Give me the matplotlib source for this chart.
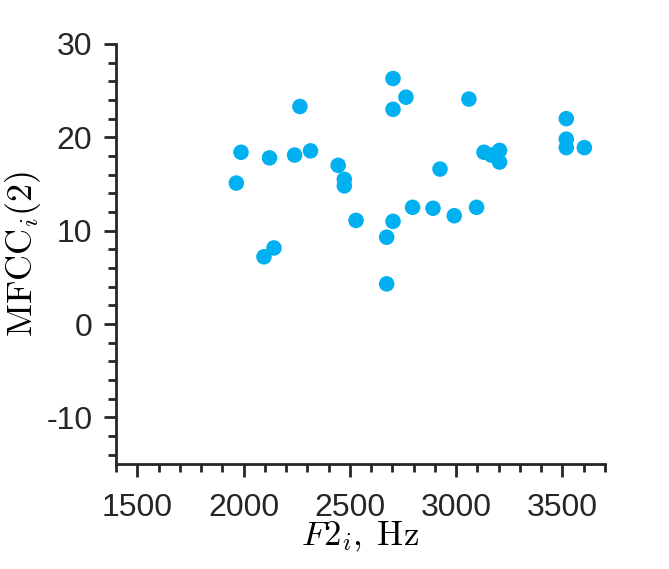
import matplotlib
matplotlib.use("Agg")
import matplotlib.pyplot as plt
from matplotlib.ticker import MultipleLocator

plt.rcParams['font.family'] = ['Liberation Sans', 'DejaVu Sans']
plt.rcParams['mathtext.fontset'] = 'cm'
plt.rcParams['axes.unicode_minus'] = False

f2_hz = [1966, 1988, 2096, 2143, 2122, 2265, 2240, 2315, 2445, 2474, 2474,
         2529, 2673, 2673, 2703, 2703, 2703, 2764, 2795, 2891, 2924, 2991,
         3060, 3096, 3131, 3165, 3204, 3204, 3518, 3518, 3518, 3603]
mfcc2 = [15.1, 18.4, 7.2, 8.15, 17.8, 23.3, 18.1, 18.55, 17.0, 15.5, 14.8,
         11.1, 9.3, 4.3, 11.0, 26.3, 23.0, 24.3, 12.5, 12.4, 16.6, 11.6,
         24.1, 12.5, 18.4, 18.1, 18.6, 17.35, 22.0, 19.8, 18.9, 18.9]

xticks = [1500, 2000, 2500, 3000, 3500]
yticks = [-10, 0, 10, 20, 30]

fig = plt.figure(figsize=(6.69, 5.69), dpi=100)
ax = fig.add_axes([0.1734, 0.1845, 0.9043 - 0.1734, 0.9227 - 0.1845])

ax.scatter(f2_hz, mfcc2, s=125, color='#00B0F0', edgecolors='none', zorder=3)

ax.set_xlim(1400, 3700)
ax.set_ylim(-15, 30)
ax.set_xticks(xticks)
ax.set_yticks(yticks)
ax.xaxis.set_minor_locator(MultipleLocator(100))
ax.yaxis.set_minor_locator(MultipleLocator(2))

for s in ['top', 'right']:
    ax.spines[s].set_visible(False)
for s in ['left', 'bottom']:
    ax.spines[s].set_linewidth(2.0)
    ax.spines[s].set_color('#262626')

ax.tick_params(which='major', direction='out', length=9, width=2.0,
               color='#262626', labelsize=23, labelcolor='#262626')
ax.tick_params(which='minor', direction='out', length=5.5, width=2.0,
               color='#262626')
ax.tick_params(axis='x', which='major', pad=12)
ax.tick_params(axis='y', which='major', pad=8)

ax.set_xlabel(r'$F2_i,\;\mathrm{Hz}$', fontsize=25, labelpad=-2)
ax.set_ylabel(r'$\mathrm{MFCC}_i(2)$', fontsize=26, labelpad=2)

fig.savefig('out.png', dpi=100)
